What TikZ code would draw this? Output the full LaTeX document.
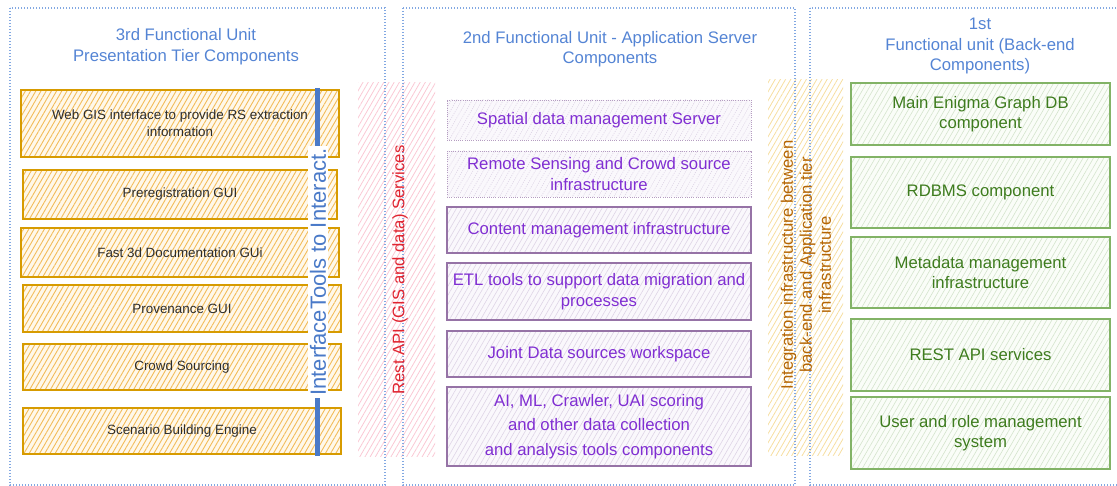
\documentclass[tikz,border=0pt]{standalone}
\usepackage{fontspec}
\setmainfont{Liberation Sans}
\usetikzlibrary{patterns.meta}

\definecolor{unitblue}{RGB}{84,132,212}
\definecolor{dotblue}{RGB}{130,168,226}
\definecolor{barblue}{RGB}{74,122,200}
\definecolor{ostroke}{RGB}{215,155,0}
\definecolor{ohatch}{RGB}{242,188,90}
\definecolor{ofill}{RGB}{255,248,234}
\definecolor{pstroke}{RGB}{150,115,166}
\definecolor{phatch}{RGB}{222,212,230}
\definecolor{pfill}{RGB}{250,248,252}
\definecolor{ptext}{RGB}{128,46,210}
\definecolor{gstroke}{RGB}{130,179,102}
\definecolor{ghatch}{RGB}{212,228,204}
\definecolor{gfill}{RGB}{250,253,248}
\definecolor{gtext}{RGB}{62,124,30}
\definecolor{rhatch}{RGB}{250,200,212}
\definecolor{rtext}{RGB}{224,36,48}
\definecolor{yhatch}{RGB}{246,222,160}
\definecolor{ytext}{RGB}{180,101,4}
\definecolor{darktext}{RGB}{45,45,45}

\tikzset{
  unit/.style={draw=dotblue, line width=1.4pt, dash pattern=on 1.4pt off 1.6pt},
  unittitle/.style={text=unitblue, align=center, font=\fontsize{16.7}{20.5}\selectfont},
  hatch/.style={pattern={Lines[angle=60,distance=4.5pt,line width=#1]}},
  obox/.style={draw=ostroke, line width=1.1pt, preaction={fill=ofill}, hatch=0.9pt,
    pattern color=ohatch, text=darktext, align=center, inner sep=0pt,
    font=\fontsize{13.4}{16.8}\selectfont},
  pbox/.style={draw=pstroke, line width=1.1pt, preaction={fill=pfill}, hatch=0.6pt,
    pattern color=phatch, text=ptext, align=center, inner sep=0pt,
    font=\fontsize{16.7}{21}\selectfont},
  pboxdot/.style={pbox, draw=pstroke!70, line width=0.8pt, dash pattern=on 1pt off 1.2pt},
  gbox/.style={draw=gstroke, line width=1.1pt, preaction={fill=gfill}, hatch=0.6pt,
    pattern color=ghatch, text=gtext, align=center, inner sep=0pt,
    font=\fontsize{16.7}{19.5}\selectfont},
  band/.style={draw=none, hatch=0.8pt, inner sep=0pt},
  bandtext/.style={rotate=90, align=center, font=\fontsize{16.7}{19}\selectfont},
}

\begin{document}
\begin{tikzpicture}[x=1pt, y=-1pt]
\useasboundingbox (0,0) rectangle (1117,486);

% Side bands carrying the inter-tier services
\node[band, pattern color=rhatch, minimum width=77pt, minimum height=373pt] (restband) at (396.5,269.5) {};
\node[band, pattern color=yhatch, minimum width=75pt, minimum height=375pt] (intband) at (805.5,267.5) {};

% Functional unit containers
\draw[unit] (10,8) rectangle (385,485);
\draw[unit] (403,8) rectangle (795,485);
\draw[unit] (810,8) rectangle (1125,485);

\node[unittitle] (t3) at (186,46.5) {3rd Functional Unit\\Presentation Tier Components};
\node[unittitle] (t2) at (610,49) {2nd Functional Unit - Application Server\\Components};
\node[unittitle] (t1) at (980,46) {1st\\Functional unit (Back-end\\Components)};

% Presentation tier components
\node[obox, minimum width=318pt, minimum height=67pt] (webgis) at (180,123.5) {Web GIS interface to provide RS extraction\\information};
\node[obox, minimum width=314pt, minimum height=49pt] (prereg) at (180,194.5) {Preregistration GUI};
\node[obox, minimum width=318pt, minimum height=49pt] (fast3d) at (180,252.5) {Fast 3d Documentation GUi};
\node[obox, minimum width=318pt, minimum height=47pt] (prov) at (182,308.5) {Provenance GUI};
\node[obox, minimum width=318pt, minimum height=46pt] (crowd) at (182,367) {Crowd Sourcing};
\node[obox, minimum width=318pt, minimum height=46pt] (scen) at (182,431) {Scenario Building Engine};

% Interface tools bar across the presentation components
\coordinate (bartop) at (317.5,88);
\coordinate (barbot) at (317.5,456);
\draw[barblue, line width=5pt] (bartop) -- (barbot);
\node[fill=white, text=barblue, rotate=90, inner sep=2pt, font=\fontsize{22}{24}\selectfont] (itools) at (318,272) {InterfaceTools to Interact.};

% Band labels
\node[bandtext, text=rtext] (restlbl) at (400,270) {Rest API (GIS and data) Services};
\node[bandtext, text=ytext] (intlbl) at (806,265) {Integration infrastructure between\\back-end and Application tier\\infrastructure};

% Application server components
\node[pboxdot, minimum width=304pt, minimum height=40pt] (spatial) at (599,120) {Spatial data management Server};
\node[pboxdot, minimum width=304pt, minimum height=46pt] (remote) at (599,174) {Remote Sensing and Crowd source\\infrastructure};
\node[pbox, minimum width=304pt, minimum height=46pt] (content) at (599,230) {Content management infrastructure};
\node[pbox, minimum width=304pt, minimum height=57pt] (etl) at (599,291.5) {ETL tools to support data migration and\\processes};
\node[pbox, minimum width=304pt, minimum height=46pt] (joint) at (599,354) {Joint Data sources workspace};
\node[pbox, minimum width=304pt, minimum height=79pt, font=\fontsize{16.7}{24.5}\selectfont] (ai) at (599,426.5) {AI, ML, Crawler, UAI scoring\\and other data collection\\and analysis tools components};

% Back-end components
\node[gbox, minimum width=259pt, minimum height=62pt] (graphdb) at (980.5,114) {Main Enigma Graph DB\\component};
\node[gbox, minimum width=259pt, minimum height=71pt] (rdbms) at (980.5,192.5) {RDBMS component};
\node[gbox, minimum width=259pt, minimum height=71pt] (meta) at (980.5,272.5) {Metadata management\\infrastructure};
\node[gbox, minimum width=259pt, minimum height=72pt] (rest) at (980.5,355) {REST API services};
\node[gbox, minimum width=259pt, minimum height=72pt] (users) at (980.5,433) {User and role management\\system};
\end{tikzpicture}
\end{document}
